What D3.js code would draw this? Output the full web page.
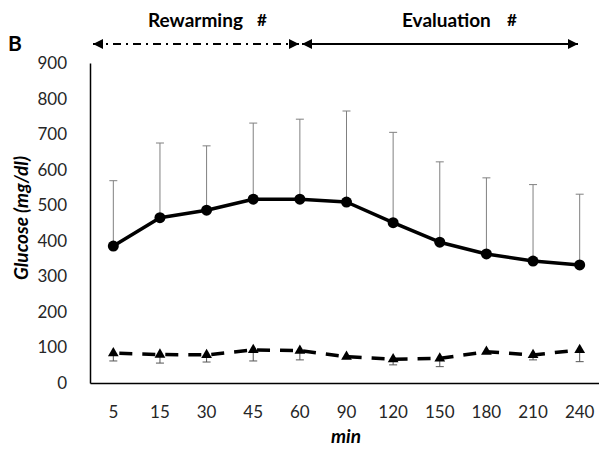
<!DOCTYPE html>
<html><head><meta charset="utf-8">
<script src="https://cdn.jsdelivr.net/npm/d3@7"></script>
<style>body{margin:0;background:#fff;}svg{display:block;}</style>
</head><body>
<svg id="chart" width="599" height="450"></svg>
<script>
const categories = ["5","15","30","45","60","90","120","150","180","210","240"];
const meanA = [385,465,486,517,517,509,451,396,363,343,332];
const sdA   = [184,210,181,214,225,256,254,226,214,215,199];
const meanB = [84,80,79,93,91,74,67,69,88,79,93];
const sdB   = [22,24,20,31,26,4,16,23,4,14,33];
const yTicks = [0,100,200,300,400,500,600,700,800,900];

const svg = d3.select("#chart");
const font = "Lato, 'Open Sans', sans-serif";
const x = d3.scaleBand().domain(categories).range([90,603]);
const y = d3.scaleLinear().domain([0,900]).range([383,63]);
const cx = c => x(c) + x.bandwidth()/2;

// axes
const yAxis = d3.axisLeft(y).tickValues(yTicks).tickSize(0).tickPadding(23);
const gy = svg.append("g").attr("transform","translate(90,0)").call(yAxis);
gy.select(".domain").attr("stroke","#000").attr("stroke-width",1.5);
gy.selectAll("text").attr("font-family",font).attr("font-size",17).attr("fill","#262626");

const xAxis = d3.axisBottom(x).tickSize(0).tickPadding(23);
const gx = svg.append("g").attr("transform","translate(0,383)").call(xAxis);
gx.select(".domain").attr("stroke","#000").attr("stroke-width",1.5);
gx.selectAll("text").attr("font-family",font).attr("font-size",17).attr("fill","#262626");

// error bars A (upward)
const eA = svg.append("g");
categories.forEach((c,i)=>{
  const top = y(meanA[i]+sdA[i]);
  eA.append("line").attr("x1",cx(c)).attr("x2",cx(c)).attr("y1",y(meanA[i])).attr("y2",top).attr("stroke","#808080").attr("stroke-width",1);
  eA.append("line").attr("x1",cx(c)-4).attr("x2",cx(c)+4).attr("y1",top).attr("y2",top).attr("stroke","#808080").attr("stroke-width",1);
});
// error bars B (downward)
const eB = svg.append("g");
categories.forEach((c,i)=>{
  const bot = y(meanB[i]-sdB[i]);
  eB.append("line").attr("x1",cx(c)).attr("x2",cx(c)).attr("y1",y(meanB[i])).attr("y2",bot).attr("stroke","#555").attr("stroke-width",1);
  eB.append("line").attr("x1",cx(c)-4).attr("x2",cx(c)+4).attr("y1",bot).attr("y2",bot).attr("stroke","#555").attr("stroke-width",1);
});

const line = d3.line().x((d,i)=>cx(categories[i])).y(d=>y(d));
svg.append("path").datum(meanA).attr("d",line).attr("fill","none").attr("stroke","#000").attr("stroke-width",3.5).attr("stroke-linejoin","round");
svg.append("g").selectAll("circle").data(meanA).join("circle")
  .attr("cx",(d,i)=>cx(categories[i])).attr("cy",d=>y(d)).attr("r",5.5).attr("fill","#000");

svg.append("path").datum(meanB).attr("d",line).attr("fill","none").attr("stroke","#000").attr("stroke-width",3.5).attr("stroke-dasharray","13,10").attr("stroke-dashoffset",-6);
const tri = d3.symbol().type(d3.symbolTriangle).size(50);
svg.append("g").selectAll("path").data(meanB).join("path")
  .attr("d",tri).attr("transform",(d,i)=>`translate(${cx(categories[i])},${y(d)})`).attr("fill","#000");

// axis titles
svg.append("text").attr("transform","translate(28,218) rotate(-90)").attr("text-anchor","middle")
  .attr("font-family",font).attr("font-size",19).attr("font-weight","bold").attr("font-style","italic").attr("fill","#000").text("Glucose (mg/dl)");
svg.append("text").attr("x",346).attr("y",443).attr("text-anchor","middle")
  .attr("font-family",font).attr("font-size",19).attr("font-weight","bold").attr("font-style","italic").attr("fill","#000").text("min");

// panel letter
svg.append("text").attr("x",8).attr("y",51).attr("font-family",font).attr("font-size",21).attr("font-weight","bold").attr("fill","#000").text("B");

// phase arrows
const defs = svg.append("defs");
defs.append("marker").attr("id","ah").attr("viewBox","0 0 10 10").attr("refX",10).attr("refY",5)
  .attr("markerWidth",10).attr("markerHeight",10).attr("markerUnits","userSpaceOnUse").attr("orient","auto-start-reverse")
  .append("path").attr("d","M0,0L10,5L0,10Z").attr("fill","#000");
const ay = 44;
svg.append("line").attr("x1",93).attr("x2",299).attr("y1",ay).attr("y2",ay).attr("stroke","#000").attr("stroke-width",2)
  .attr("stroke-dasharray","8,5,2,5").attr("marker-start","url(#ah)").attr("marker-end","url(#ah)");
svg.append("line").attr("x1",302).attr("x2",578).attr("y1",ay).attr("y2",ay).attr("stroke","#000").attr("stroke-width",2)
  .attr("marker-start","url(#ah)").attr("marker-end","url(#ah)");
svg.append("text").attr("x",148).attr("y",27).attr("font-family",font).attr("font-size",19).attr("font-weight","bold").attr("fill","#000").text("Rewarming");
svg.append("text").attr("x",257).attr("y",26).attr("font-family",font).attr("font-size",17).attr("font-weight","bold").attr("fill","#000").text("#");
svg.append("text").attr("x",402).attr("y",27).attr("font-family",font).attr("font-size",19).attr("font-weight","bold").attr("fill","#000").text("Evaluation");
svg.append("text").attr("x",507).attr("y",26).attr("font-family",font).attr("font-size",17).attr("font-weight","bold").attr("fill","#000").text("#");
</script>
</body></html>
